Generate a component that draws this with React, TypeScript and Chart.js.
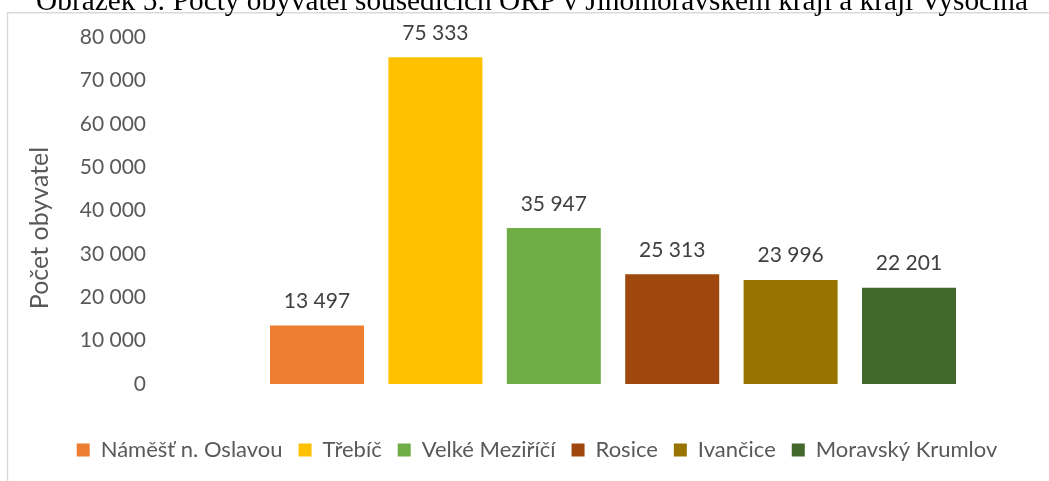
import React, { useEffect, useRef } from 'react';
import { Chart, registerables } from 'chart.js';

Chart.register(...registerables);

// ---- data ----
const CATEGORY_LABELS = [''];
const SERIES_NAMES = ['Náměšť n. Oslavou', 'Třebíč', 'Velké Meziříčí', 'Rosice', 'Ivančice', 'Moravský Krumlov'];
const POPULATION = [13497, 75333, 35947, 25313, 23996, 22201];
const SERIES_COLORS = ['#ED7D31', '#FFC000', '#70AD47', '#9E480E', '#997300', '#43682B'];
const Y_MIN = 0;
const Y_MAX = 80000;
const Y_STEP = 10000;
const CHART_TITLE = 'Obrázek 5: Počty obyvatel sousedících ORP v Jihomoravském kraji a kraji Vysočina';
const Y_AXIS_TITLE = 'Počet obyvatel';

const FONT = 'Lato';
const fmt = (v: number) => Math.round(v).toString().replace(/\B(?=(\d{3})+(?!\d))/g, ' ');

const framePlugin = {
  id: 'frameAndTitle',
  beforeDraw(chart: any) {
    const { ctx, width, height } = chart;
    ctx.save();
    ctx.fillStyle = '#ffffff';
    ctx.fillRect(0, 0, width, height);
    // chart frame (top + left edge)
    ctx.strokeStyle = '#d9d9d9';
    ctx.lineWidth = 1.5;
    ctx.beginPath();
    ctx.moveTo(width, 12.75);
    ctx.lineTo(7.5, 12.75);
    ctx.lineTo(7.5, height);
    ctx.stroke();
    // figure caption (cut off by the top edge)
    ctx.fillStyle = '#000000';
    ctx.font = '29.3px "Liberation Serif"';
    ctx.textAlign = 'center';
    ctx.textBaseline = 'alphabetic';
    ctx.fillText(CHART_TITLE, 532, 10);
    ctx.restore();
  },
  afterDraw(chart: any) {
    // vertical axis title, centred as in the source
    const { ctx } = chart;
    ctx.save();
    ctx.translate(40, 228);
    ctx.rotate(-Math.PI / 2);
    ctx.fillStyle = '#595959';
    ctx.font = `25px ${FONT}`;
    ctx.textAlign = 'center';
    ctx.textBaseline = 'middle';
    ctx.fillText(Y_AXIS_TITLE, 0, 0);
    ctx.restore();
  },
};

const dataLabelPlugin = {
  id: 'valueLabels',
  afterDatasetsDraw(chart: any) {
    const { ctx } = chart;
    ctx.save();
    ctx.font = `21px ${FONT}`;
    ctx.fillStyle = '#404040';
    ctx.textAlign = 'center';
    ctx.textBaseline = 'alphabetic';
    chart.data.datasets.forEach((ds: any, i: number) => {
      const meta = chart.getDatasetMeta(i);
      meta.data.forEach((el: any, j: number) => {
        const v = ds.data[j];
        ctx.fillText(fmt(v), el.x, el.y - 17.5);
      });
    });
    ctx.restore();
  },
};

export default function App() {
  const canvasRef = useRef<HTMLCanvasElement | null>(null);

  useEffect(() => {
    let chart: Chart | null = null;
    let cancelled = false;
    const make = () => {
      if (cancelled || !canvasRef.current) return;
      chart = new Chart(canvasRef.current, {
        type: 'bar',
        data: {
          labels: CATEGORY_LABELS,
          datasets: SERIES_NAMES.map((name, i) => ({
            label: name,
            data: [POPULATION[i]],
            backgroundColor: SERIES_COLORS[i],
            borderWidth: 0,
            categoryPercentage: 0.7841,
            barPercentage: 0.794,
          })),
        },
        options: {
          responsive: false,
          animation: false,
          layout: { padding: { left: 8, right: 10, top: 37, bottom: 10 } },
          plugins: {
            title: { display: false },
            tooltip: { enabled: false },
            legend: {
              display: true,
              position: 'bottom',
              labels: {
                boxWidth: 13,
                boxHeight: 13,
                padding: 16,
                color: '#595959',
                font: { family: FONT, size: 22 },
              },
            },
          },
          scales: {
            x: {
              display: true,
              grid: { display: false, drawTicks: false },
              border: { display: false },
              ticks: { display: false },
              afterFit: (s: any) => {
                s.height = 39;
              },
            },
            y: {
              min: Y_MIN,
              max: Y_MAX,
              grid: { display: false, drawTicks: false },
              border: { display: false },
              ticks: {
                stepSize: Y_STEP,
                padding: 14,
                color: '#595959',
                font: { family: FONT, size: 21 },
                callback: (v: any) => fmt(Number(v)),
              },
              title: { display: false, text: Y_AXIS_TITLE },
              afterFit: (s: any) => {
                s.width = 152;
              },
            },
          },
        },
        plugins: [framePlugin, dataLabelPlugin],
      });
    };
    const fonts = (document as any).fonts;
    if (fonts && fonts.load) {
      Promise.all([
        fonts.load(`21px ${FONT}`),
        fonts.load('29px "Liberation Serif"'),
      ]).then(make, make);
    } else {
      make();
    }
    return () => {
      cancelled = true;
      if (chart) chart.destroy();
    };
  }, []);

  return (
    <div style={{ position: 'absolute', left: 0, top: 0, width: 1049, height: 481, overflow: 'hidden', background: '#fff' }}>
      <canvas ref={canvasRef} width={1076} height={481} />
    </div>
  );
}
